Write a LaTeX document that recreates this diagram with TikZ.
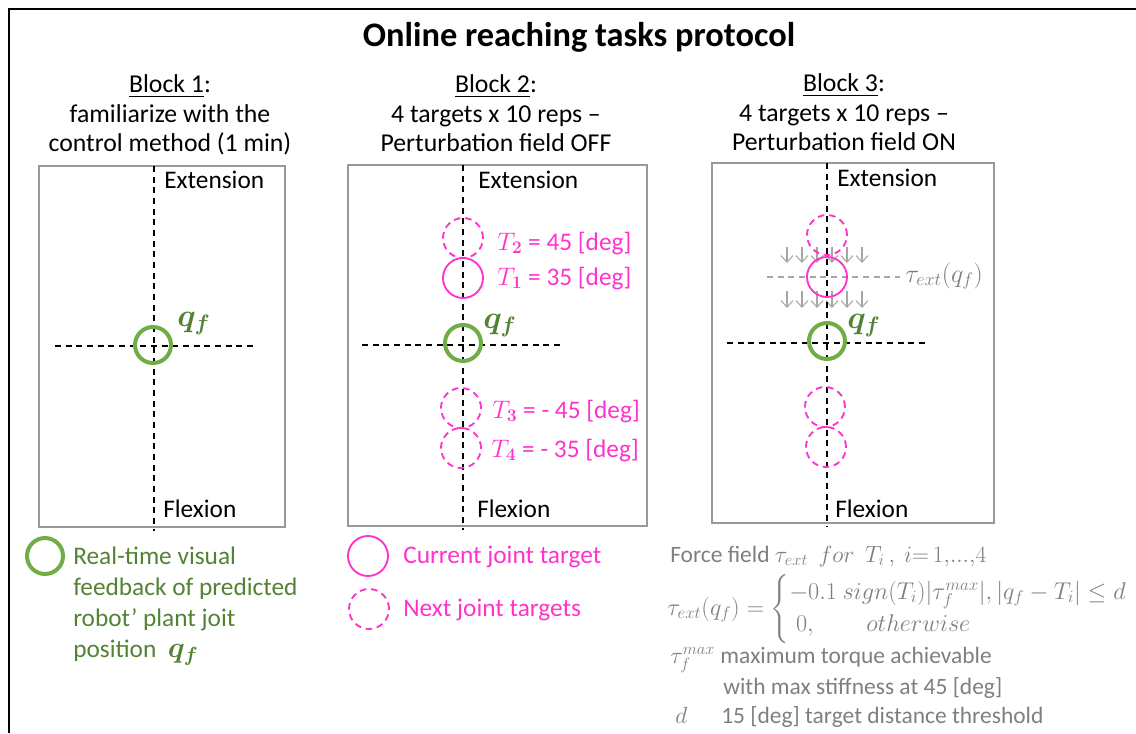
\RequirePackage{fix-cm}
\documentclass[tikz,border=0pt]{standalone}
\usepackage{amsmath}
\usepackage{fontspec}
\setmainfont{Carlito}
\usepackage{bm}
\usetikzlibrary{arrows.meta}
\definecolor{cgreen}{HTML}{70AD47}
\definecolor{tgreen}{HTML}{548235}
\definecolor{cpink}{HTML}{FF33CC}
\definecolor{tgray}{HTML}{7F7F7F}
\definecolor{agray}{HTML}{A6A6A6}
\definecolor{bgray}{HTML}{999999}
\begin{document}
\begin{tikzpicture}[x=0.75pt,y=-0.75pt,
  txt/.style={font=\fontsize{19}{22}\selectfont, inner sep=0pt, anchor=base west},
  ctxt/.style={font=\fontsize{19.3}{22}\selectfont, inner sep=0pt, anchor=base},
  boxframe/.style={draw=bgray, line width=0.8pt},
  axis/.style={draw=black, line width=1.5pt, dash pattern=on 4.5pt off 3.5pt},
  gcirc/.style={circle, draw=cgreen, line width=3pt, minimum size=27pt, inner sep=0pt},
  pcirc/.style={circle, draw=cpink, line width=1.4pt, minimum size=30pt, inner sep=0pt},
  pdcirc/.style={pcirc, dash pattern=on 5pt off 3.5pt},
  qlab/.style={txt, text=tgreen, font=\fontsize{24}{26}\selectfont},
  plab/.style={txt, text=cpink},
  glab/.style={txt, text=tgray, font=\fontsize{17.6}{20}\selectfont},
  farrow/.style={draw=agray, line width=0.8pt, -{Straight Barb[length=5pt,width=9pt]}}
]
\useasboundingbox (0,0) rectangle (1136,733);
% outer frame
\coordinate (fbl) at (9,733);
\coordinate (ftl) at (9,9);
\coordinate (ftr) at (1136,9);
\draw[line width=2.2pt] (fbl) -- (ftl) -- (ftr);

% title
\node[inner sep=0pt, font=\bfseries\fontsize{25.8}{28}\selectfont] (title) at (579,37) {Online reaching tasks protocol};

% headings
\node[ctxt] (h1a) at (170,92) {\underline{Block 1}:};
\node[ctxt] (h1b) at (170,122) {familiarize with the};
\node[ctxt] (h1c) at (170,151) {control method (1 min)};
\node[ctxt] (h2a) at (496,92) {\underline{Block 2}:};
\node[ctxt] (h2b) at (496,122) {4 targets x 10 reps --};
\node[ctxt] (h2c) at (496,151) {Perturbation field OFF};
\node[ctxt] (h3a) at (844,91) {\underline{Block 3}:};
\node[ctxt] (h3b) at (844,121) {4 targets x 10 reps --};
\node[ctxt] (h3c) at (844,150) {Perturbation field ON};

% ---------- Block 1 ----------
\draw[boxframe] (39,166) rectangle (285,527);
\coordinate (v1t) at (154,166);
\coordinate (v1b) at (154,531);
\coordinate (h1l) at (55,346);
\coordinate (h1r) at (253,346);
\draw[axis] (v1t) -- (v1b);
\draw[axis] (h1l) -- (h1r);
\node[gcirc] (g1) at (153,345) {};
\node[txt] (ext1) at (164,188) {Extension};
\node[txt] (flx1) at (163,517) {Flexion};
\node[qlab] (q1) at (177,326) {$\bm{q_f}$};

% ---------- Block 2 ----------
\draw[boxframe] (348,165) rectangle (647,526);
\coordinate (v2t) at (463,165);
\coordinate (v2b) at (463,530);
\coordinate (h2l) at (362,345);
\coordinate (h2r) at (562,345);
\draw[axis] (v2t) -- (v2b);
\draw[axis] (h2l) -- (h2r);
\node[gcirc] (g2) at (463,343) {};
\node[pdcirc] (t2) at (463,238) {};
\node[pcirc] (t1) at (463,278) {};
\node[pdcirc] (t3) at (461,408) {};
\node[pdcirc] (t4) at (461,448) {};
\node[txt] (ext2) at (478,188) {Extension};
\node[txt] (flx2) at (477,517) {Flexion};
\node[qlab] (q2) at (483,328) {$\bm{q_f}$};
\node[plab] (l2) at (497,250) {$T_{\bm{2}}$ = 45 [deg]};
\node[plab] (l1) at (497,285) {$T_{\bm{1}}$ = 35 [deg]};
\node[plab] (l3) at (492,418) {$T_{\bm{3}}$ = - 45 [deg]};
\node[plab] (l4) at (491,457) {$T_{\bm{4}}$ = - 35 [deg]};

% ---------- Block 3 ----------
\draw[boxframe] (712,163) rectangle (994,523);
\coordinate (v3t) at (827,163);
\coordinate (v3b) at (827,527);
\coordinate (h3l) at (727,343);
\coordinate (h3r) at (925,343);
\coordinate (fl) at (767,277);
\coordinate (fr) at (900,277);
\draw[draw=agray, line width=1.2pt, dash pattern=on 4.5pt off 3.5pt] (fl) -- (fr);
\foreach \i [count=\k] in {787,802,817,832,847,862}{
  \coordinate (at\k) at (\i,247);
  \coordinate (ab\k) at (\i,263);
  \coordinate (bt\k) at (\i,291);
  \coordinate (bb\k) at (\i,308);
  \draw[farrow] (at\k) -- (ab\k);
  \draw[farrow] (bt\k) -- (bb\k);
}
\draw[axis] (v3t) -- (v3b);
\draw[axis] (h3l) -- (h3r);
\node[gcirc] (g3) at (827,341) {};
\node[pdcirc] (s2) at (827,235) {};
\node[pcirc] (s1) at (827,277) {};
\node[pdcirc] (s3) at (825,407) {};
\node[pdcirc] (s4) at (826,447) {};
\node[txt] (ext3) at (837,186) {Extension};
\node[txt] (flx3) at (835,517) {Flexion};
\node[qlab] (q3) at (847,328) {$\bm{q_f}$};
\node[txt, text=tgray, font=\fontsize{19.5}{22}\selectfont] (tau) at (905,282) {$\tau_{ext}(q_f)$};

% ---------- Legends ----------
\node[gcirc] (lg) at (45,556) {};
\node[txt, text=tgreen] (lg1) at (73,564) {Real-time visual};
\node[txt, text=tgreen] (lg2) at (73,595) {feedback of predicted};
\node[txt, text=tgreen] (lg3) at (73,626) {robot’ plant joit};
\node[txt, text=tgreen] (lg4) at (73,657) {position \ {\fontsize{22}{24}\selectfont$\bm{q_f}$}};

\node[pcirc] (lp1) at (368,556) {};
\node[plab] (lp1t) at (403,563) {Current joint target};
\node[pdcirc] (lp2) at (369,609) {};
\node[plab] (lp2t) at (403,616) {Next joint targets};

\node[glab] (ff) at (670,562) {Force field $\tau_{ext}\ \ for\ \ T_i\,,\ i{=}\,1,\!...,\!4$};
\node[glab, anchor=west, font=\fontsize{18.2}{20}\selectfont] (eq) at (667,609) {$\tau_{ext}(q_f) = \begin{cases} -0.1\ sign(T_i)|\tau_f^{max}|, |q_f - T_i| \le d\\ \;0, \qquad otherwise\end{cases}$};
\node[glab] (tm) at (670,663) {$\tau_f^{max}$ maximum torque achievable};
\node[glab] (tm2) at (723,694) {with max stiffness at 45 [deg]};
\node[glab] (dd) at (675,723) {$d$};
\node[glab] (dd2) at (721,723) {15 [deg] target distance threshold};
\end{tikzpicture}
\end{document}
